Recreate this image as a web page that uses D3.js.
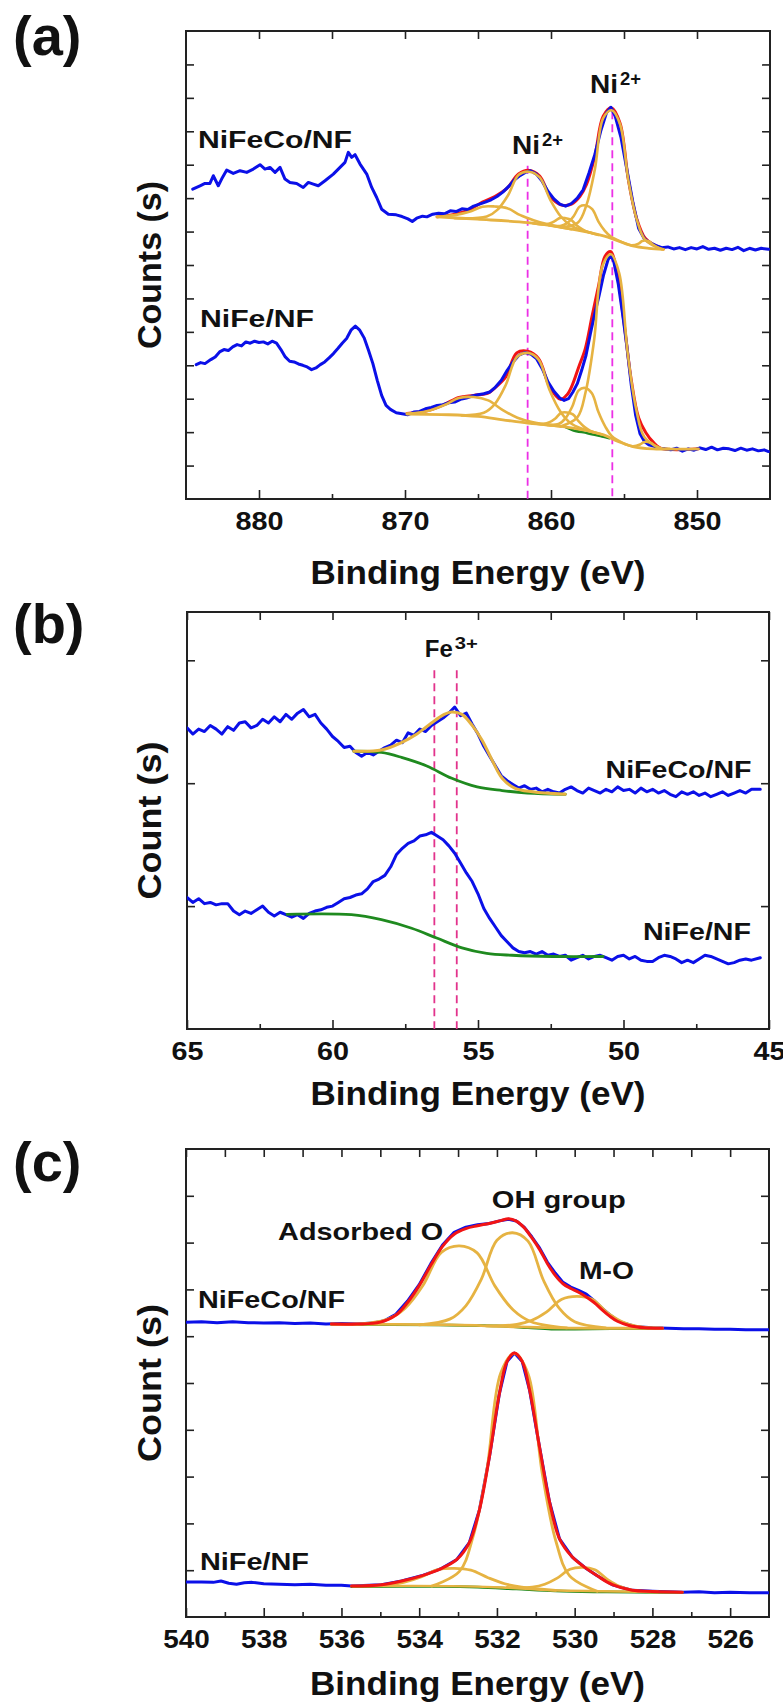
<!DOCTYPE html>
<html>
<head>
<meta charset="utf-8">
<script src="https://cdn.jsdelivr.net/npm/d3@7"></script>
<style>
  body { margin: 0; background: #fff; }
  text { font-family: "Liberation Sans", Arial, sans-serif; font-weight: bold; fill: #111; }
</style>
</head>
<body>
<script>
// ---------- panel (a) Ni 2p ----------
var aMajor = [880, 870, 860, 850];
var aMinor = [875, 865, 855];
var aYTicks = [1,2,3,4,5,6,7,8,9,10,11,12,13];
var aDashes = [[861.6, 9.97], [855.8, 11.6]];

var aBlueNiFeCo = [[884.54,9.27],[884.04,9.37],[883.7,9.44],[883.36,9.44],[883.13,9.67],[882.79,9.37],[882.56,9.57],[882.21,9.84],[881.76,9.74],[881.3,9.82],[880.84,9.77],[880.39,9.87],[879.93,10.0],[879.59,9.87],[879.25,9.92],[878.9,9.77],[878.56,9.92],[878.22,9.57],[877.88,9.47],[877.42,9.44],[876.97,9.32],[876.62,9.47],[876.28,9.42],[875.94,9.37],[875.48,9.52],[874.91,9.72],[874.45,9.92],[874.11,10.07],[873.88,10.37],[873.65,10.22],[873.42,10.30],[873.08,10.02],[872.62,9.72],[872.28,9.32],[871.94,9.02],[871.6,8.67],[871.14,8.52],[870.6,8.50],[870.2,8.45],[869.8,8.38],[869.5,8.30],[869.2,8.40],[868.8,8.46],[868.5,8.44],[868.1,8.52],[867.7,8.55],[867.3,8.53],[866.9,8.62],[866.5,8.60],[866.1,8.68],[865.7,8.66],[865.3,8.76],[864.9,8.82],[864.5,8.88],[864.1,8.95],[863.7,9.05],[863.3,9.18],[862.9,9.35],[862.5,9.55],[862.1,9.68],[861.7,9.78],[861.4,9.82],[861.0,9.72],[860.6,9.50],[860.2,9.20],[859.8,8.98],[859.4,8.82],[859.0,8.76],[858.6,8.84],[858.2,9.00],[857.8,9.25],[857.4,9.75],[857.0,10.3],[856.6,11.0],[856.2,11.55],[855.9,11.72],[855.6,11.45],[855.2,10.8],[854.8,9.85],[854.4,8.90],[854.0,8.10],[853.6,7.78],[853.2,7.66],[852.8,7.58],[852.4,7.52],[852.0,7.54],[851.6,7.48],[851.2,7.52],[850.8,7.46],[850.4,7.52],[850.0,7.48],[849.6,7.55],[849.2,7.47],[848.8,7.50],[848.4,7.44],[848.0,7.50],[847.6,7.46],[847.2,7.53],[846.8,7.43],[846.4,7.50],[846.0,7.45],[845.6,7.50],[845.1,7.47]];
var aRedNiFeCo = [[867.8,8.44],[866.5,8.53],[865.6,8.65],[864.7,8.88],[863.85,9.05],[863.0,9.30],[862.225,9.72],[861.5,9.83],[860.775,9.66],[860.05,9.05],[859.325,8.80],[859.0,8.78],[858.6,8.82],[858.025,9.05],[857.575,9.40],[857.0,10.25],[856.425,11.45],[855.85,11.70],[855.275,11.25],[854.7,9.55],[854.125,8.38],[853.55,7.80],[853.0,7.62],[852.3,7.48]];
var aBaseNiFeCo = [[867.8,8.44],[865.05,8.37],[861.6,8.27],[859.9,8.17],[858.2,8.04],[856.4,7.87],[855.4,7.72],[854.4,7.57],[853.3,7.50],[852.3,7.47]];
var aPeaksNiFeCo = [
  [[867.8,8.44],[867.35,8.46],[866.5,8.50],[865.6,8.59],[864.7,8.745],[863.85,8.75],[863.0,8.70],[862.1,8.49],[861.2,8.34],[860.35,8.23],[858.6,8.07]],
  [[866.6,8.40],[864.4,8.45],[863.675,8.65],[862.95,9.08],[862.225,9.69],[861.5,9.79],[860.775,9.62],[860.05,8.95],[859.325,8.45],[858.6,8.17],[857.15,7.95]],
  [[861.25,8.25],[860.5,8.21],[860.1,8.24],[859.75,8.31],[859.375,8.41],[859.0,8.40],[858.625,8.35],[858.25,8.19],[857.875,8.07],[857.5,7.99],[856.75,7.90]],
  [[860.15,8.19],[859.3,8.17],[858.875,8.26],[858.45,8.46],[858.025,8.75],[857.6,8.78],[857.175,8.67],[856.75,8.30],[856.325,8.03],[855.9,7.85],[855.05,7.67]],
  [[859.3,8.13],[858.15,8.27],[857.575,8.79],[857.0,9.85],[856.425,11.39],[855.85,11.63],[855.275,11.22],[854.7,9.53],[854.125,8.36],[853.55,7.75],[852.4,7.47]],
  [[855.0,7.66],[854.5,7.59],[854.0,7.64],[853.75,7.72],[853.5,7.73],[853.25,7.70],[853.0,7.60],[852.5,7.49],[852.3,7.47]]
];

var aBlueNiFe = [[884.3,4.02],[884.0,4.08],[883.7,4.05],[883.3,4.17],[883.0,4.25],[882.7,4.40],[882.4,4.47],[882.1,4.44],[881.8,4.55],[881.5,4.62],[881.2,4.58],[880.9,4.70],[880.6,4.66],[880.3,4.72],[880.0,4.68],[879.7,4.70],[879.4,4.64],[879.1,4.72],[878.8,4.66],[878.5,4.47],[878.2,4.25],[877.9,4.12],[877.6,4.10],[877.3,4.04],[877.0,4.00],[876.7,3.95],[876.4,3.87],[876.1,3.92],[875.8,4.02],[875.5,4.10],[875.2,4.22],[874.9,4.35],[874.6,4.50],[874.3,4.66],[874.0,4.80],[873.7,5.05],[873.4,5.17],[873.1,5.05],[872.8,4.82],[872.5,4.45],[872.2,4.05],[871.9,3.55],[871.6,3.10],[871.3,2.80],[871.0,2.68],[870.6,2.58],[870.2,2.55],[869.8,2.52],[869.4,2.60],[869.0,2.62],[868.6,2.70],[868.2,2.74],[867.8,2.80],[867.4,2.82],[867.0,2.88],[866.6,2.90],[866.2,2.98],[865.8,3.02],[865.4,3.08],[865.0,3.12],[864.6,3.15],[864.2,3.20],[863.8,3.35],[863.4,3.55],[863.0,3.85],[862.6,4.10],[862.2,4.30],[861.8,4.38],[861.4,4.34],[861.0,4.20],[860.6,3.90],[860.2,3.50],[859.8,3.22],[859.4,3.02],[859.1,2.95],[858.8,3.00],[858.5,3.20],[858.2,3.45],[857.9,3.85],[857.6,4.30],[857.3,4.95],[857.0,5.55],[856.7,6.10],[856.4,6.70],[856.1,7.15],[855.9,7.30],[855.7,7.10],[855.4,6.45],[855.1,5.55],[854.8,4.55],[854.5,3.40],[854.2,2.50],[853.9,1.95],[853.6,1.72],[853.3,1.62],[853.0,1.58],[852.6,1.52],[852.2,1.50],[851.8,1.47],[851.4,1.52],[851.0,1.43],[850.6,1.50],[850.2,1.46],[849.8,1.53],[849.4,1.48],[849.0,1.55],[848.6,1.47],[848.2,1.52],[847.8,1.50],[847.4,1.45],[847.0,1.52],[846.6,1.46],[846.2,1.50],[845.8,1.44],[845.4,1.47],[845.1,1.42]];
var aRedNiFe = [[869.87,2.56],[868.3,2.66],[867.3,2.83],[866.3,3.04],[865.3,3.10],[864.3,3.17],[863.85,3.32],[863.1,3.65],[862.35,4.37],[861.6,4.42],[860.85,4.20],[860.1,3.36],[859.35,2.98],[858.9,3.12],[858.55,3.40],[858.1,3.95],[857.65,4.5],[857.2,5.44],[856.75,6.36],[856.3,7.26],[855.9,7.40],[855.5,6.83],[855.0,5.28],[854.5,3.55],[854.0,2.43],[853.5,1.98],[853.0,1.70],[852.5,1.52],[849.9,1.5]];
var aBaseNiFe = [[869.87,2.54],[867.0,2.52],[865.0,2.47],[863.3,2.37],[861.6,2.27],[859.9,2.2],[858.2,2.1],[856.4,1.92],[855.4,1.72],[854.4,1.57],[853.0,1.5],[849.9,1.5]];
var aGreenNiFe = [[859.0,2.15],[858.5,2.06],[857.5,1.97],[856.5,1.87],[856.0,1.82]];
var aPeaksNiFe = [
  [[869.87,2.555],[869.3,2.57],[868.3,2.65],[867.3,2.81],[866.3,3.02],[865.3,3.05],[864.3,2.95],[863.3,2.66],[862.3,2.43],[861.3,2.30],[859.3,2.17]],
  [[866.1,2.50],[864.6,2.58],[863.85,2.84],[863.1,3.41],[862.35,4.24],[861.6,4.37],[860.85,4.17],[860.1,3.26],[859.35,2.61],[858.6,2.25],[857.1,2.0]],
  [[861.3,2.26],[860.5,2.25],[860.1,2.30],[859.7,2.41],[859.3,2.58],[858.9,2.59],[858.5,2.53],[858.1,2.32],[857.7,2.15],[857.3,2.04],[856.5,1.93]],
  [[860.35,2.22],[859.45,2.25],[859.0,2.42],[858.55,2.76],[858.1,3.25],[857.65,3.32],[857.2,3.16],[856.75,2.60],[856.3,2.18],[855.85,1.89],[854.95,1.65]],
  [[859.35,2.17],[858.2,2.44],[857.625,3.21],[857.05,4.74],[856.475,6.97],[855.9,7.32],[855.325,6.75],[854.75,4.37],[854.175,2.71],[853.6,1.85],[852.45,1.5]],
  [[854.9,1.64],[854.4,1.58],[853.9,1.63],[853.65,1.70],[853.4,1.71],[853.15,1.68],[852.9,1.60],[852.4,1.51],[851.9,1.5]]
];

// ---------- panel (b) Fe 3p ----------
var bMajor = [65, 60, 55, 50, 45];
var bMinor = [62.5, 57.5, 52.5, 47.5];
var bYTicks = [1, 2, 3];
var bDashes = [[56.5, 2.92], [55.73, 2.92]];

var bBlueNiFeCo = [[65.0,2.45],[64.8,2.40],[64.6,2.44],[64.4,2.42],[64.2,2.47],[64.0,2.44],[63.8,2.40],[63.6,2.46],[63.4,2.43],[63.2,2.49],[63.0,2.50],[62.8,2.45],[62.6,2.47],[62.4,2.52],[62.2,2.49],[62.0,2.54],[61.8,2.50],[61.6,2.56],[61.4,2.52],[61.2,2.57],[61.0,2.60],[60.8,2.54],[60.6,2.56],[60.4,2.49],[60.2,2.44],[60.0,2.38],[59.8,2.34],[59.6,2.29],[59.4,2.30],[59.2,2.25],[59.0,2.22],[58.8,2.25],[58.6,2.23],[58.4,2.26],[58.2,2.29],[58.0,2.31],[57.8,2.35],[57.6,2.33],[57.4,2.41],[57.2,2.39],[57.0,2.44],[56.8,2.42],[56.6,2.47],[56.4,2.50],[56.2,2.53],[56.0,2.57],[55.8,2.62],[55.6,2.55],[55.4,2.57],[55.2,2.48],[55.0,2.40],[54.8,2.30],[54.6,2.22],[54.4,2.14],[54.2,2.06],[54.0,2.02],[53.8,1.99],[53.6,1.96],[53.4,1.98],[53.2,1.95],[53.0,1.96],[52.8,1.93],[52.6,1.95],[52.4,1.93],[52.2,1.92],[52.0,1.95],[51.8,1.97],[51.6,1.94],[51.4,1.92],[51.2,1.96],[51.0,1.94],[50.8,1.92],[50.6,1.95],[50.4,1.93],[50.2,1.97],[50.0,1.94],[49.8,1.95],[49.6,1.92],[49.4,1.96],[49.2,1.93],[49.0,1.95],[48.8,1.92],[48.6,1.94],[48.4,1.91],[48.2,1.89],[48.0,1.93],[47.8,1.91],[47.6,1.93],[47.4,1.90],[47.2,1.92],[47.0,1.89],[46.8,1.91],[46.6,1.93],[46.4,1.90],[46.2,1.92],[46.0,1.94],[45.8,1.92],[45.6,1.95],[45.3,1.95]];
var bFitNiFeCo = [[59.27,2.26],[58.32,2.27],[57.63,2.33],[57.1,2.40],[56.6,2.49],[56.16,2.56],[55.9,2.58],[55.55,2.56],[55.2,2.47],[54.86,2.35],[54.5,2.18],[54.17,2.04],[53.74,1.96],[53.13,1.93],[52.0,1.91]];
var bGreenNiFeCo = [[59.27,2.26],[58.32,2.25],[57.63,2.21],[56.76,2.14],[55.9,2.04],[55.03,1.97],[54.17,1.94],[53.3,1.92],[52.0,1.91]];
var bBlueNiFe = [[65.0,1.07],[64.8,1.03],[64.6,1.06],[64.4,1.02],[64.2,1.03],[64.0,1.01],[63.8,1.02],[63.6,1.02],[63.4,0.96],[63.2,0.93],[63.0,0.96],[62.8,0.94],[62.6,0.97],[62.4,1.00],[62.2,0.95],[62.0,0.92],[61.8,0.95],[61.6,0.93],[61.4,0.91],[61.2,0.93],[61.0,0.90],[60.8,0.94],[60.6,0.96],[60.4,0.97],[60.2,0.99],[60.0,1.00],[59.8,1.03],[59.6,1.06],[59.4,1.07],[59.2,1.09],[59.0,1.10],[58.8,1.14],[58.6,1.20],[58.4,1.22],[58.2,1.25],[58.0,1.32],[57.8,1.42],[57.6,1.47],[57.4,1.51],[57.2,1.53],[57.0,1.57],[56.8,1.58],[56.6,1.60],[56.4,1.57],[56.2,1.54],[56.0,1.49],[55.8,1.43],[55.6,1.35],[55.4,1.27],[55.2,1.20],[55.0,1.10],[54.8,0.98],[54.6,0.90],[54.4,0.83],[54.2,0.76],[54.0,0.71],[53.8,0.66],[53.6,0.63],[53.4,0.62],[53.2,0.63],[53.0,0.61],[52.8,0.63],[52.6,0.60],[52.4,0.61],[52.2,0.59],[52.0,0.60],[51.8,0.56],[51.6,0.58],[51.4,0.60],[51.2,0.57],[51.0,0.59],[50.8,0.60],[50.6,0.58],[50.4,0.56],[50.2,0.59],[50.0,0.60],[49.8,0.57],[49.6,0.59],[49.4,0.56],[49.2,0.55],[49.0,0.55],[48.8,0.58],[48.6,0.60],[48.4,0.59],[48.2,0.57],[48.0,0.54],[47.8,0.56],[47.6,0.54],[47.4,0.57],[47.2,0.60],[47.0,0.59],[46.8,0.57],[46.6,0.55],[46.4,0.53],[46.2,0.54],[46.0,0.56],[45.8,0.57],[45.6,0.56],[45.3,0.58]];
var bGreenNiFe = [[61.56,0.933],[59.35,0.93],[58.32,0.89],[57.28,0.82],[56.42,0.74],[55.55,0.66],[54.7,0.615],[53.83,0.60],[52.44,0.59],[50.7,0.59]];

// ---------- panel (c) O 1s ----------
var cMajor = [540, 538, 536, 534, 532, 530, 528, 526];
var cMinor = [539, 537, 535, 533, 531, 529, 527];
var cYTicks = [1,2,3,4,5,6,7,8,9];

var cBlueNiFeCo = [[540,6.30],[539.6,6.31],[539.2,6.29],[538.8,6.31],[538.4,6.29],[538,6.28],[537.6,6.29],[537.2,6.27],[536.8,6.28],[536.4,6.26],[536.0,6.27],[535.6,6.26],[535.2,6.28],[534.9,6.33],[534.6,6.47],[534.3,6.75],[534.0,7.10],[533.7,7.55],[533.4,7.95],[533.1,8.22],[532.8,8.33],[532.5,8.38],[532.2,8.41],[531.9,8.47],[531.7,8.50],[531.5,8.46],[531.3,8.33],[531.1,8.12],[530.9,7.88],[530.7,7.58],[530.5,7.35],[530.3,7.15],[530.1,7.05],[529.9,6.98],[529.7,6.90],[529.5,6.76],[529.3,6.60],[529.1,6.46],[528.9,6.34],[528.7,6.27],[528.4,6.20],[528.0,6.18],[527.6,6.17],[527.2,6.16],[526.8,6.16],[526.4,6.15],[526.0,6.15],[525.6,6.14],[525.0,6.14]];
var cRedNiFeCo = [[536.26,6.26],[535.6,6.26],[535.0,6.30],[534.6,6.45],[534.3,6.72],[534.0,7.08],[533.7,7.52],[533.4,7.92],[533.1,8.18],[532.8,8.30],[532.5,8.36],[532.2,8.41],[531.9,8.47],[531.7,8.51],[531.5,8.46],[531.3,8.32],[531.1,8.10],[530.9,7.85],[530.7,7.55],[530.5,7.30],[530.3,7.12],[530.1,7.02],[529.9,6.94],[529.7,6.84],[529.5,6.72],[529.3,6.57],[529.1,6.43],[528.9,6.32],[528.6,6.23],[528.2,6.18],[527.74,6.17]];
var cBaseNiFeCo = [[536.26,6.26],[533.16,6.24],[531.87,6.21],[530.58,6.18],[527.74,6.17]];
var cGreenNiFeCo = [[536.26,6.25],[533.5,6.24],[532,6.22],[531.2,6.18],[530.6,6.15],[530,6.15],[529,6.16],[527.74,6.16]];
var cPeaksNiFeCo = [
  [[536.26,6.26],[535.75,6.25],[534.82,6.36],[534.36,6.60],[533.9,7.09],[533.43,7.79],[532.97,7.93],[532.51,7.78],[532.05,7.07],[531.58,6.56],[531.12,6.31],[530.2,6.18]],
  [[534.0,6.24],[533.2,6.37],[532.8,6.65],[532.4,7.22],[532.0,8.05],[531.6,8.21],[531.2,8.03],[530.8,7.19],[530.4,6.60],[530.0,6.31],[529.2,6.18]],
  [[532.27,6.22],[531.49,6.25],[531.1,6.34],[530.72,6.52],[530.33,6.79],[529.94,6.85],[529.55,6.79],[529.17,6.51],[528.78,6.31],[528.39,6.21],[527.74,6.17]]
];
var cBlueNiFe = [[540,0.75],[539.6,0.75],[539.3,0.74],[539.1,0.77],[538.9,0.72],[538.7,0.70],[538.5,0.73],[538.3,0.74],[538.0,0.71],[537.6,0.70],[537.2,0.69],[536.8,0.70],[536.4,0.68],[536.0,0.68],[535.74,0.66],[534.97,0.69],[534.45,0.77],[533.94,0.88],[533.42,1.04],[533.03,1.23],[532.71,1.59],[532.45,2.29],[532.19,3.44],[531.94,4.76],[531.74,5.46],[531.55,5.64],[531.35,5.46],[531.16,4.85],[530.9,3.61],[530.65,2.47],[530.39,1.67],[530.06,1.28],[529.74,1.06],[529.42,0.88],[529.03,0.69],[528.52,0.57],[528.0,0.55],[527.23,0.53],[526.8,0.54],[526.4,0.52],[526.0,0.53],[525.5,0.52],[525.0,0.52]];
var cRedNiFe = [[535.74,0.66],[534.97,0.69],[534.45,0.77],[533.94,0.88],[533.42,1.04],[533.03,1.23],[532.71,1.59],[532.45,2.29],[532.19,3.44],[531.94,4.76],[531.74,5.46],[531.55,5.64],[531.35,5.46],[531.16,4.85],[530.9,3.61],[530.65,2.47],[530.39,1.67],[530.06,1.28],[529.74,1.06],[529.42,0.88],[529.03,0.69],[528.52,0.57],[528.0,0.546],[527.23,0.53]];
var cBaseNiFe = [[535.74,0.66],[533.16,0.66],[531.87,0.63],[530.58,0.57],[529.29,0.55],[527.23,0.53]];
var cGreenNiFe = [[535.74,0.65],[533.5,0.655],[532.5,0.64],[531.5,0.60],[530.5,0.56],[529.5,0.54],[528.5,0.53],[527.23,0.525]];
var cPeaksNiFe = [
  [[535.71,0.66],[534.84,0.68],[534.4,0.74],[533.97,0.85],[533.54,1.01],[533.1,1.04],[532.67,1.0],[532.23,0.84],[531.8,0.71],[531.36,0.64],[530.49,0.57]],
  [[533.68,0.66],[532.97,0.97],[532.62,1.70],[532.26,3.14],[531.9,5.22],[531.55,5.63],[531.2,5.20],[530.84,3.10],[530.49,1.64],[530.13,0.88],[529.42,0.55]],
  [[531.74,0.63],[531.09,0.64],[530.77,0.70],[530.45,0.83],[530.12,1.02],[529.8,1.06],[529.48,1.01],[529.15,0.80],[528.83,0.65],[528.51,0.57],[527.86,0.535]]
];

var BLUE = "#0b10e8", RED = "#f21414", GOLD = "#e6b342", GREEN = "#1f8a1f";

var svg = d3.select("body").append("svg")
  .attr("width", 783)
  .attr("height", 1704)
  .style("display", "block");
svg.append("rect").attr("width", 783).attr("height", 1704).attr("fill", "#fff");

function makePanel(id, left, top, w, h, xDom, yDom, major, minor, yTicks, lblDigitW, tickBase, titleBase, yTitle, yTitleLen) {
  var g = svg.append("g").attr("transform", "translate(" + left + "," + top + ")");
  var x = d3.scaleLinear().domain(xDom).range([0, w]);
  var y = d3.scaleLinear().domain(yDom).range([h, 0]);

  g.append("clipPath").attr("id", "clip" + id)
    .append("rect").attr("width", w).attr("height", h);

  // ticks, all pointing inwards
  var bot = g.append("g").attr("transform", "translate(0," + h + ")")
    .call(d3.axisBottom(x).tickValues(major).tickSize(-9).tickPadding(tickBase - 19).tickFormat(d3.format("d")));
  g.append("g").attr("transform", "translate(0," + h + ")")
    .call(d3.axisBottom(x).tickValues(minor).tickSize(-5).tickFormat(""));
  g.append("g").call(d3.axisTop(x).tickValues(major.concat(minor)).tickSize(-8).tickFormat(""));
  g.append("g").call(d3.axisLeft(y).tickValues(yTicks).tickSize(-8).tickFormat(""));
  g.append("g").attr("transform", "translate(" + w + ",0)")
    .call(d3.axisRight(y).tickValues(yTicks).tickSize(-8).tickFormat(""));
  g.selectAll(".domain").remove();
  g.selectAll(".tick line").attr("stroke", "#222").attr("stroke-width", 1.6);
  bot.selectAll(".tick text")
    .style("font-size", "26.5px")
    .style("font-family", "Liberation Sans, Arial, sans-serif")
    .style("font-weight", "bold")
    .attr("fill", "#111")
    .attr("textLength", function(d) { return String(d).length * lblDigitW; })
    .attr("lengthAdjust", "spacingAndGlyphs");

  g.append("rect").attr("width", w).attr("height", h)
    .attr("fill", "none").attr("stroke", "#222").attr("stroke-width", 2);

  g.append("text")
    .attr("x", w / 2).attr("y", h + titleBase)
    .attr("text-anchor", "middle")
    .attr("textLength", 335).attr("lengthAdjust", "spacingAndGlyphs")
    .style("font-size", "33px")
    .text("Binding Energy (eV)");

  g.append("text")
    .attr("transform", "translate(" + (161 - left) + "," + (h / 2) + ") rotate(-90)")
    .attr("text-anchor", "middle")
    .attr("textLength", yTitleLen).attr("lengthAdjust", "spacingAndGlyphs")
    .style("font-size", "34px")
    .text(yTitle);

  var plot = g.append("g").attr("clip-path", "url(#clip" + id + ")");
  return { g: g, plot: plot, x: x, y: y };
}

function curve(p, data, color, width, smooth) {
  var line = d3.line()
    .x(function(d) { return p.x(d[0]); })
    .y(function(d) { return p.y(d[1]); })
    .curve(smooth ? d3.curveCatmullRom : d3.curveLinear);
  p.plot.append("path").datum(data)
    .attr("d", line)
    .attr("fill", "none")
    .attr("stroke", color)
    .attr("stroke-width", width)
    .attr("stroke-linejoin", "round")
    .attr("stroke-linecap", "round");
}

function dashes(p, list, color) {
  p.plot.selectAll(null).data(list).enter().append("line")
    .attr("x1", function(d) { return p.x(d[0]); })
    .attr("x2", function(d) { return p.x(d[0]); })
    .attr("y1", function(d) { return p.y(d[1]); })
    .attr("y2", p.y(p.y.domain()[0]))
    .attr("stroke", color)
    .attr("stroke-width", 1.8)
    .attr("stroke-dasharray", "8,5");
}

function label(p, txt, ex, ey, size, len, anchor) {
  p.g.append("text")
    .attr("x", p.x(ex)).attr("y", p.y(ey))
    .attr("text-anchor", anchor || "start")
    .attr("textLength", len).attr("lengthAdjust", "spacingAndGlyphs")
    .style("font-size", size + "px")
    .text(txt);
}

function ion(p, base, sup, ex, ey, baseLen, supLen, size, supSize) {
  var x0 = p.x(ex), y0 = p.y(ey);
  p.g.append("text").attr("x", x0).attr("y", y0)
    .attr("textLength", baseLen).attr("lengthAdjust", "spacingAndGlyphs")
    .style("font-size", size + "px").text(base);
  p.g.append("text").attr("x", x0 + baseLen + 2).attr("y", y0 - size * 0.3)
    .attr("textLength", supLen).attr("lengthAdjust", "spacingAndGlyphs")
    .style("font-size", supSize + "px").text(sup);
}

function panelTag(txt, yBase) {
  svg.append("text").attr("x", 13).attr("y", yBase)
    .style("font-size", "56px").text(txt);
}

// ---- (a) ----
var pa = makePanel("a", 186, 31, 584, 468, [885, 845], [0, 14], aMajor, aMinor, aYTicks, 16, 31, 85, "Counts (s)", 168);
dashes(pa, aDashes, "#ec30e6");
curve(pa, aRedNiFeCo, RED, 3, true);
curve(pa, aRedNiFe, RED, 3, true);
curve(pa, aBlueNiFeCo, BLUE, 3, false);
curve(pa, aBlueNiFe, BLUE, 3, false);
curve(pa, aGreenNiFe, GREEN, 2.6, true);
curve(pa, aBaseNiFeCo, GOLD, 2.8, true);
curve(pa, aBaseNiFe, GOLD, 2.8, true);
aPeaksNiFeCo.forEach(function(pk) { curve(pa, pk, GOLD, 2.6, true); });
aPeaksNiFe.forEach(function(pk) { curve(pa, pk, GOLD, 2.6, true); });
label(pa, "NiFeCo/NF", 884.18, 10.51, 24, 154);
label(pa, "NiFe/NF", 884.04, 5.14, 24, 114);
ion(pa, "Ni", "2+", 862.67, 10.33, 28, 21, 26, 18);
ion(pa, "Ni", "2+", 857.33, 12.15, 28, 21, 26, 18);
panelTag("(a)", 55);

// ---- (b) ----
var pb = makePanel("b", 187, 612, 582, 417, [65, 45], [0, 3.393], bMajor, bMinor, bYTicks, 16, 31, 76, "Count (s)", 158);
dashes(pb, bDashes, "#e2338c");
curve(pb, bBlueNiFeCo, BLUE, 3, false);
curve(pb, bBlueNiFe, BLUE, 3, false);
curve(pb, bGreenNiFeCo, GREEN, 2.8, true);
curve(pb, bGreenNiFe, GREEN, 2.8, true);
curve(pb, bFitNiFeCo, GOLD, 3, true);
ion(pb, "Fe", "3+", 56.83, 3.03, 28, 23, 24, 17);
label(pb, "NiFeCo/NF", 45.6, 2.04, 24, 146, "end");
label(pb, "NiFe/NF", 45.62, 0.725, 24, 108, "end");
panelTag("(b)", 643);

// ---- (c) ----
var pc = makePanel("c", 186, 1149, 583, 468, [540, 525], [0, 10], cMajor, cMinor, cYTicks, 15.5, 31, 78, "Count (s)", 158);
curve(pc, cBlueNiFeCo, BLUE, 3, false);
curve(pc, cBlueNiFe, BLUE, 3, false);
curve(pc, cGreenNiFeCo, GREEN, 2.6, true);
curve(pc, cGreenNiFe, GREEN, 2.8, true);
curve(pc, cBaseNiFeCo, GOLD, 2.8, true);
curve(pc, cBaseNiFe, GOLD, 2.4, true);
cPeaksNiFeCo.forEach(function(pk) { curve(pc, pk, GOLD, 2.8, true); });
cPeaksNiFe.forEach(function(pk) { curve(pc, pk, GOLD, 2.8, true); });
curve(pc, cRedNiFeCo, RED, 3, true);
curve(pc, cRedNiFe, RED, 3, true);
label(pc, "Adsorbed O", 537.63, 8.05, 24, 165);
label(pc, "OH group", 532.13, 8.75, 24, 134);
label(pc, "M-O", 529.89, 7.22, 24, 55);
label(pc, "NiFeCo/NF", 539.69, 6.6, 24, 147);
label(pc, "NiFe/NF", 539.64, 1.0, 24, 109);
panelTag("(c)", 1181);
</script>
</body>
</html>
